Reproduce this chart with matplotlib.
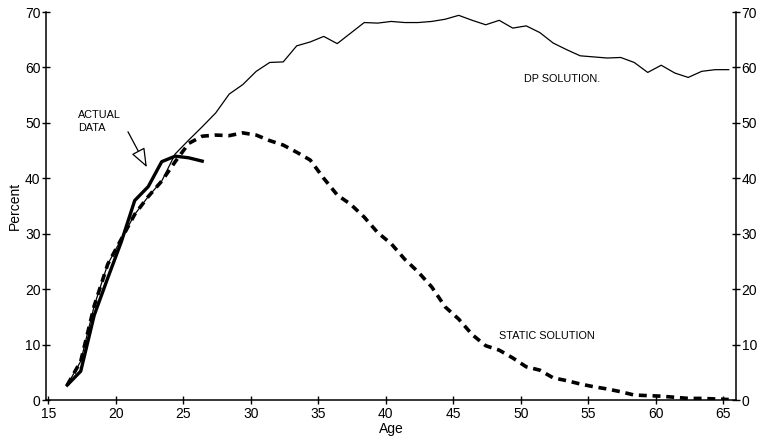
import numpy as np
import matplotlib
matplotlib.use("Agg")
import matplotlib.pyplot as plt

plt.rcParams["font.family"] = ["Liberation Sans", "DejaVu Sans"]

# ages at which each series is reported
ages = np.arange(16, 66)
actual_ages = np.arange(16, 27)

actual = [2.7, 5.2, 15.3, 22.0, 28.5, 36.0, 38.5, 43.0, 44.0, 43.7, 43.1]

static = [2.7, 7.0, 17.0, 24.5, 29.0, 33.5, 36.7, 39.5, 43.0, 46.3,
          47.6, 47.8, 47.7, 48.2, 47.8, 46.8, 46.0, 44.7, 43.3, 40.0,
          37.0, 35.3, 33.0, 30.2, 28.2, 25.4, 23.1, 20.4, 16.8, 14.6,
          11.8, 9.8, 9.0, 7.6, 6.0, 5.4, 4.0, 3.5, 2.9, 2.4,
          2.0, 1.5, 0.9, 0.8, 0.7, 0.5, 0.3, 0.3, 0.2, 0.1]

dp = [2.7, 7.0, 17.0, 24.5, 29.0, 33.5, 36.7, 39.5, 44.4, 46.9,
      49.3, 51.8, 55.2, 56.9, 59.3, 60.9, 61.0, 63.9, 64.6, 65.6,
      64.3, 66.2, 68.1, 68.0, 68.3, 68.1, 68.1, 68.3, 68.7, 69.4,
      68.5, 67.7, 68.5, 67.1, 67.5, 66.3, 64.4, 63.2, 62.1, 61.9,
      61.7, 61.8, 60.9, 59.1, 60.4, 59.0, 58.2, 59.3, 59.6, 59.6]

# points sit a little to the right of the whole-year ticks
shift = 0.4

fig = plt.figure(figsize=(7.62, 4.45), dpi=100)
ax = fig.add_axes([0.0604, 0.101, 0.9055, 0.872])

ax.plot(ages + shift, dp, color="black", lw=0.9)
ax.plot(ages + shift, static, color="black", lw=2.6, linestyle=(0, (2.2, 1.6)))
ax.plot(actual_ages + shift, actual, color="black", lw=2.4)

ax.set_xlim(14.83, 65.94)
ax.set_ylim(0, 70)
ax.set_xticks(range(15, 66, 5))
ax.set_yticks(range(0, 71, 10))

ax.spines["top"].set_visible(False)
for side in ("left", "right", "bottom"):
    ax.spines[side].set_linewidth(1.1)

ax.tick_params(direction="inout", length=6, width=1, labelsize=10,
               right=True, labelright=True, pad=2)
ax.tick_params(axis="y", pad=1)

ax.set_xlabel("Age", fontsize=10, labelpad=1)
ax.set_ylabel("Percent", fontsize=10, labelpad=2)

ax.text(50.2, 58.0, "DP SOLUTION.", fontsize=7.8, ha="left", va="center")
ax.text(48.4, 11.5, "STATIC SOLUTION", fontsize=7.8, ha="left", va="center")

# label and hollow-headed pointer for the observed series
ax.text(17.2, 50.2, "ACTUAL\nDATA", fontsize=7.8, ha="left", va="center",
        linespacing=1.35)
ax.annotate("", xy=(22.3, 42.0), xytext=(20.9, 48.4),
            arrowprops=dict(arrowstyle="-|>,head_length=1.3,head_width=0.5",
                            mutation_scale=9, fc="white", ec="black", lw=0.9,
                            shrinkA=0, shrinkB=0))

fig.savefig("out.png", dpi=100)
